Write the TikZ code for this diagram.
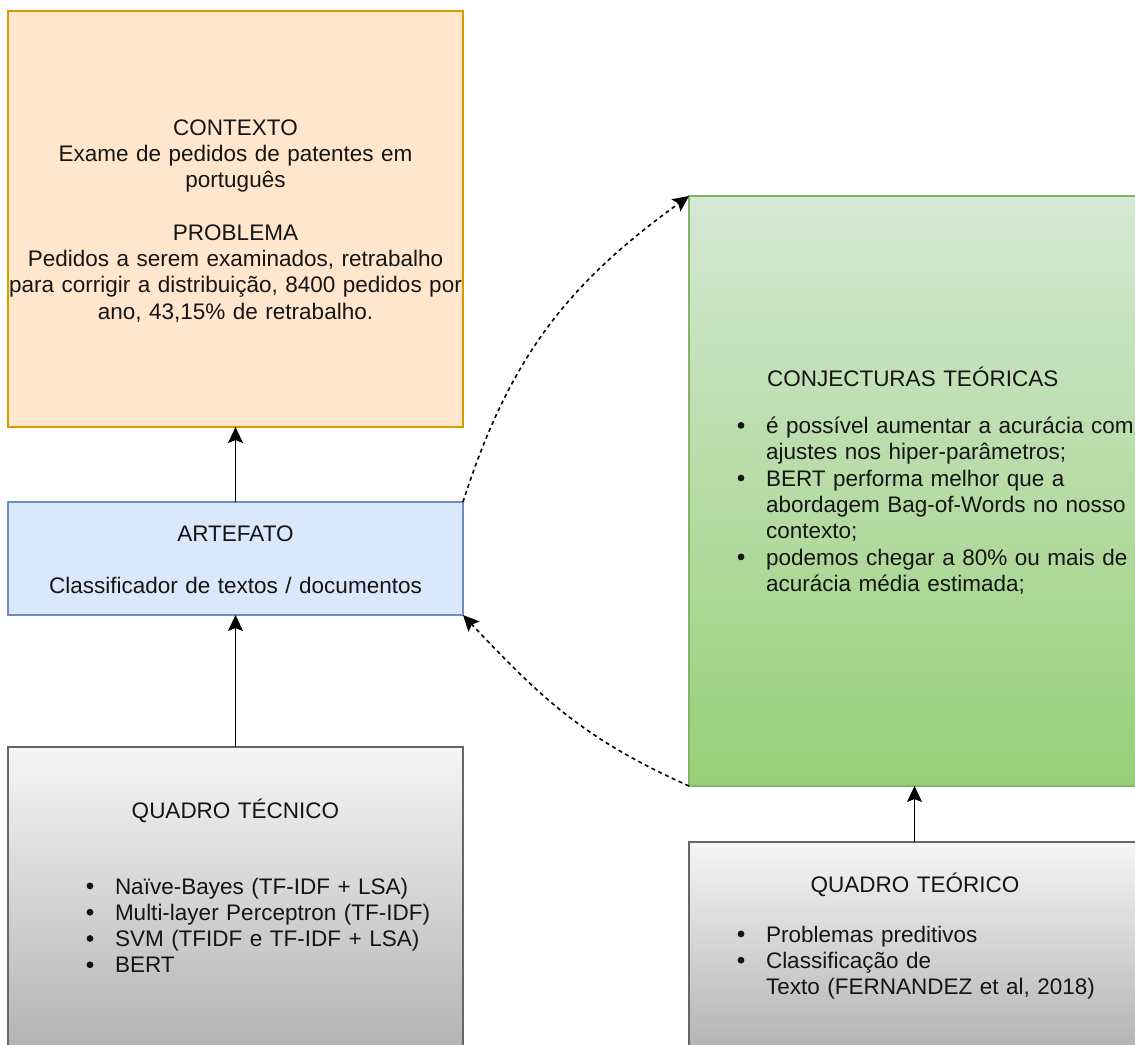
\documentclass[tikz,border=0pt]{standalone}
\usepackage{fontspec}
\setmainfont{Liberation Sans}
\usetikzlibrary{arrows.meta}

\definecolor{orangeFill}{HTML}{FFE6CC}
\definecolor{orangeLine}{HTML}{D79B00}
\definecolor{blueFill}{HTML}{DAE8FC}
\definecolor{blueLine}{HTML}{6C8EBF}
\definecolor{greenTop}{HTML}{D5E8D4}
\definecolor{greenBot}{HTML}{97D077}
\definecolor{greenLine}{HTML}{82B366}
\definecolor{grayTop}{HTML}{F5F5F5}
\definecolor{grayBot}{HTML}{B3B3B3}
\definecolor{grayLine}{HTML}{666666}
\definecolor{ink}{HTML}{151515}

% round list marker (a small filled disc on the x-height centre)
% and continuation indent for the item lists
\newcommand{\bul}{\makebox[29pt][l]{\hspace*{0.6pt}\raisebox{4.7pt}[0pt][0pt]{\tikz\fill[ink] (0,0) circle (3.4pt);}}}
\newcommand{\cont}{\hspace*{29pt}}

\begin{document}
\begin{tikzpicture}[x=1pt,y=-1pt,
  box/.style={rectangle, inner sep=0pt, outer sep=0pt, line width=1.4pt},
  txt/.style={inner sep=0pt, outer sep=0pt, text=ink,
    font=\fontsize{22.5}{26.3}\selectfont},
  ctxt/.style={txt, anchor=base, align=center, text width=#1},
  ltxt/.style={txt, anchor=base west, align=left, text width=#1},
  conn/.style={draw=black, line width=1.6pt,
    -{Stealth[length=16pt, width=15pt, inset=3pt]}},
  dconn/.style={conn, dash pattern=on 4pt off 3.5pt}]

\useasboundingbox (0,0) rectangle (1135,1044);
\fill[white] (0,0) rectangle (1135,1044);
\clip (0,0) rectangle (1135,1044);

% boxes
\node[box, draw=orangeLine, fill=orangeFill, minimum width=455pt, minimum height=416pt]
  (ctx) at (235.5,219) {};
\node[box, draw=blueLine, fill=blueFill, minimum width=455pt, minimum height=113pt]
  (art) at (235.5,558.5) {};
\node[box, draw=grayLine, top color=grayTop, bottom color=grayBot,
  minimum width=455pt, minimum height=303pt] (tec) at (235.5,898.5) {};
\node[box, draw=greenLine, top color=greenTop, bottom color=greenBot,
  minimum width=451pt, minimum height=590pt] (conj) at (914.5,491) {};
\node[box, draw=grayLine, top color=grayTop, bottom color=grayBot,
  minimum width=451pt, minimum height=208pt] (teo) at (914.5,946) {};

% texts
\node[ctxt=470pt] (ctxtxt) at (235.5,135) {CONTEXTO\\
  Exame de pedidos de patentes em\\
  português\\[26.3pt]
  PROBLEMA\\
  Pedidos a serem examinados, retrabalho\\
  para corrigir a distribuição, 8400 pedidos por\\
  ano, 43,15\% de retrabalho.};

\node[ctxt=440pt] (arttxt) at (235.5,541) {ARTEFATO\\[26.3pt]
  Classificador de textos / documentos};

\node[ctxt=440pt] (tectitle) at (235.5,818) {QUADRO TÉCNICO};
\node[ltxt=400pt] (teclist) at (86,894) {\bul Naïve-Bayes (TF-IDF + LSA)\\
  \bul Multi-layer Perceptron (TF-IDF)\\
  \bul SVM (TFIDF e TF-IDF + LSA)\\
  \bul BERT};

\node[ltxt=400pt] (conjtitle) at (767,386) {CONJECTURAS TEÓRICAS};
\node[ltxt=420pt] (conjlist) at (737,433.5) {\bul é possível aumentar a acurácia com\\
  \cont ajustes nos hiper-parâmetros;\\
  \bul BERT performa melhor que a\\
  \cont abordagem Bag-of-Words no nosso\\
  \cont contexto;\\
  \bul podemos chegar a 80\% ou mais de\\
  \cont acurácia média estimada;};

\node[ctxt=420pt] (teotitle) at (915,892) {QUADRO TEÓRICO};
\node[ltxt=420pt] (teolist) at (737,942) {\bul Problemas preditivos\\
  \bul Classificação de\\
  \cont Texto (FERNANDEZ et al, 2018)};

% connectors
\draw[conn] (art.north) -- (ctx.south);
\draw[conn] (tec.north) -- (art.south);
\draw[conn] (teo.north) -- (conj.south);
\draw[dconn] (art.north east) .. controls (510,355) and (570,282) .. (conj.north west);
\draw[dconn] (conj.south west) .. controls (584,739) and (542,699) .. (art.south east);
\end{tikzpicture}
\end{document}
